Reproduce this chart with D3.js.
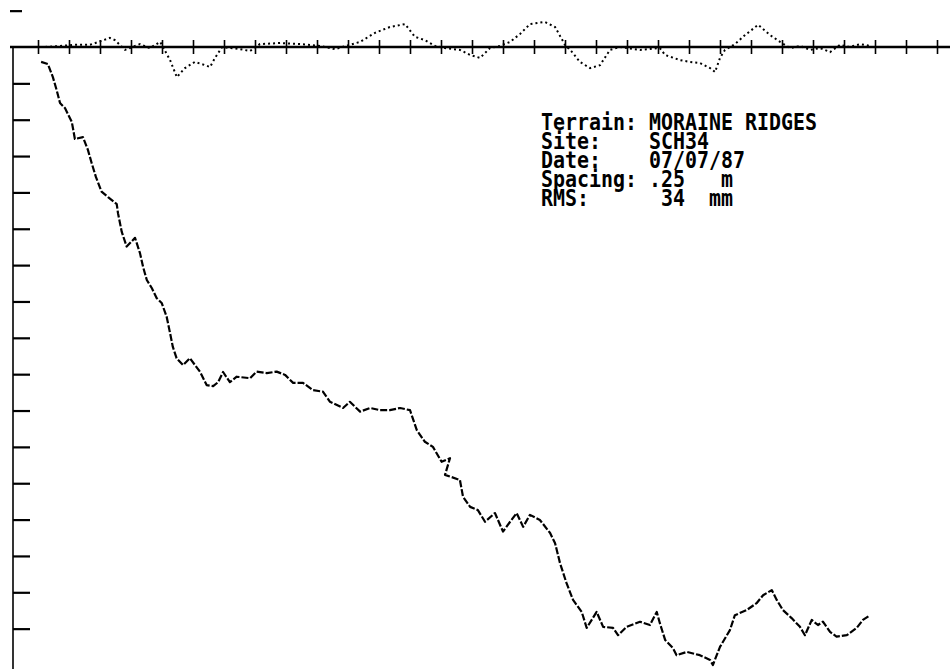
<!DOCTYPE html>
<html>
<head>
<meta charset="utf-8">
<script src="https://cdn.jsdelivr.net/npm/d3@7/dist/d3.min.js"></script>
<style>
  html, body { margin: 0; padding: 0; background: #fff; }
  svg { display: block; }
</style>
</head>
<body>
<svg id="chart" width="950" height="669"></svg>
<script>
// ---- Data (distance in m, elevation in m) ----
const profileDist = [0.10,0.32,0.48,0.60,0.71,0.87,1.09,1.19,1.45,1.61,1.73,1.87,2.05,2.26,2.54,2.58,2.70,2.86,3.13,3.29,
  3.39,3.51,3.67,3.83,3.99,4.15,4.26,4.35,4.47,4.68,4.90,5.23,5.44,5.65,5.81,5.97,6.19,6.41,6.84,7.05,
  7.38,7.70,7.97,8.23,8.55,8.87,9.19,9.42,9.84,10.06,10.39,10.71,11.03,11.35,11.68,12.00,12.22,12.48,12.74,13.02,
  13.29,13.13,13.61,13.71,13.94,14.19,14.42,14.74,15.00,15.23,15.44,15.65,15.87,16.19,16.52,16.68,16.84,17.05,17.26,17.54,
  17.70,18.02,18.23,18.55,18.71,18.99,19.42,19.74,19.96,20.06,20.23,20.48,20.60,20.93,21.35,21.68,21.77,22.00,22.32,22.48,
  22.86,23.18,23.39,23.67,23.83,24.03,24.31,24.58,24.74,24.96,25.16,25.32,25.55,25.76,26.09,26.41,26.61,26.84];
const profileElev = [-0.41,-0.47,-0.83,-1.18,-1.54,-1.68,-2.06,-2.53,-2.48,-2.83,-3.19,-3.58,-3.98,-4.13,-4.32,-4.57,-5.08,-5.49,-5.25,-5.67,
  -6.05,-6.41,-6.63,-6.91,-7.04,-7.42,-7.87,-8.25,-8.56,-8.75,-8.56,-8.94,-9.30,-9.33,-9.22,-8.94,-9.22,-9.07,-9.11,-8.93,
  -8.97,-8.93,-9.02,-9.24,-9.24,-9.44,-9.48,-9.76,-9.93,-9.76,-10.03,-9.93,-9.99,-9.99,-9.93,-9.99,-10.54,-10.86,-11.00,-11.41,
  -11.31,-11.77,-11.91,-12.37,-12.65,-12.74,-13.06,-12.82,-13.33,-13.06,-12.82,-13.20,-12.87,-13.01,-13.37,-13.65,-14.20,-14.75,-15.21,-15.54,
  -15.98,-15.54,-15.95,-15.98,-16.18,-15.95,-15.81,-15.90,-15.54,-15.85,-16.31,-16.53,-16.73,-16.64,-16.73,-16.86,-17.00,-16.50,-16.04,-15.63,
  -15.49,-15.30,-15.08,-14.94,-15.21,-15.49,-15.71,-15.95,-16.18,-15.76,-15.90,-15.81,-16.09,-16.22,-16.18,-15.98,-15.76,-15.63];

// Detrended residual profile (m)
const residDist = [0.23,0.71,1.19,1.68,2.32,2.48,2.81,3.29,3.61,3.94,4.26,4.48,4.74,5.06,5.39,5.55,5.71,5.94,6.52,6.84,
  7.16,7.81,8.45,9.10,9.58,10.06,10.39,10.87,11.35,11.84,12.16,12.48,12.81,13.13,13.61,13.94,14.26,14.58,14.90,15.23,
  15.55,15.87,16.35,16.68,17.00,17.23,17.48,17.81,18.13,18.45,18.77,19.42,20.06,20.23,20.71,21.03,21.35,21.68,21.84,22.00,
  22.16,22.48,22.81,23.23,23.61,23.94,24.26,24.58,24.90,25.23,25.55,25.87,26.19,26.52,26.84];
const residVal = [0,0.03,0.06,0.06,0.25,0.19,-0.08,0.08,-0.03,0.14,-0.36,-0.83,-0.58,-0.41,-0.50,-0.55,-0.30,0,-0.06,-0.11,
  0.08,0.11,0.08,0.03,-0.06,0.06,0.14,0.39,0.55,0.63,0.28,0.19,0.03,-0.03,-0.08,-0.22,-0.30,-0.03,0.03,0.14,
  0.36,0.63,0.69,0.55,0.06,-0.14,-0.41,-0.58,-0.50,-0.08,0,-0.08,-0.03,-0.22,-0.36,-0.41,-0.44,-0.58,-0.69,-0.30,
  -0.08,0.08,0.33,0.61,0.33,0.14,-0.03,0.03,-0.08,-0.03,-0.14,0.06,0,0.08,0.03];

const xTickValues = d3.range(0, 30, 1);
const yTickValues = [1,-1,-2,-3,-4,-5,-6,-7,-8,-9,-10,-11,-12,-13,-14,-15,-16];

const infoLabels = ["Terrain:", "Site:", "Date:", "Spacing:", "RMS:"];
const infoValues = ["MORAINE RIDGES", "SCH34", "07/07/87", ".25   m", " 34  mm"];

// ---- Scales ----
const svg = d3.select("#chart");
const x = d3.scaleLinear().domain([0, 29]).range([38, 937]);
const y = d3.scaleLinear().domain([0, -17]).range([47, 665]);

// ---- Left (vertical) axis ----
svg.append("line")
  .attr("x1", 13).attr("x2", 13)
  .attr("y1", y(0)).attr("y2", 669)
  .attr("stroke", "#000").attr("stroke-width", 1.6);

const yAxis = d3.axisRight(y).tickValues(yTickValues).tickSize(17).tickFormat("");
const gy = svg.append("g").attr("transform", "translate(13,0)").call(yAxis);
gy.select(".domain").remove();
gy.selectAll(".tick line").attr("stroke", "#000").attr("stroke-width", 2.2);
gy.selectAll(".tick").filter(d => d > 0).select("line").attr("x1", -3).attr("x2", 9);

// ---- Horizontal (zero) axis ----
svg.append("line")
  .attr("x1", 10).attr("x2", 950)
  .attr("y1", y(0)).attr("y2", y(0))
  .attr("stroke", "#000").attr("stroke-width", 2.4);

const xAxis = d3.axisBottom(x).tickValues(xTickValues).tickSize(14).tickFormat("");
const gx = svg.append("g").attr("transform", `translate(0,${y(0) - 7})`).call(xAxis);
gx.select(".domain").remove();
gx.selectAll(".tick line").attr("stroke", "#000").attr("stroke-width", 1.6);

// ---- Residual line ----
const resid = residDist.map((d, i) => [d, residVal[i]]);
svg.append("path")
  .datum(resid)
  .attr("d", d3.line().x(d => x(d[0])).y(d => y(d[1])))
  .attr("fill", "none")
  .attr("stroke", "#000")
  .attr("stroke-width", 2)
  .attr("stroke-dasharray", "2 3");

// ---- Profile line ----
const profile = profileDist.map((d, i) => [d, profileElev[i]]);
svg.append("path")
  .datum(profile)
  .attr("d", d3.line().x(d => x(d[0])).y(d => y(d[1])))
  .attr("fill", "none")
  .attr("stroke", "#000")
  .attr("stroke-width", 2.2)
  .attr("stroke-linejoin", "round")
  .attr("stroke-dasharray", "7 2");

// ---- Info block (monospace, 12 px per character) ----
const charW = 12, textX = 541, firstBase = 130, lineH = 19;
const info = svg.append("g")
  .attr("font-family", "'DejaVu Sans Mono', 'Liberation Mono', monospace")
  .attr("font-weight", "bold")
  .attr("font-size", 23)
  .attr("fill", "#000");
infoLabels.forEach((lab, i) => {
  const line = lab.padEnd(9, " ") + infoValues[i];
  const trimmed = line.replace(/\s+$/, "");
  info.append("text")
    .attr("x", textX)
    .attr("y", firstBase + i * lineH)
    .attr("xml:space", "preserve")
    .style("white-space", "pre")
    .attr("textLength", trimmed.length * charW)
    .attr("lengthAdjust", "spacingAndGlyphs")
    .text(trimmed);
});
</script>
</body>
</html>
